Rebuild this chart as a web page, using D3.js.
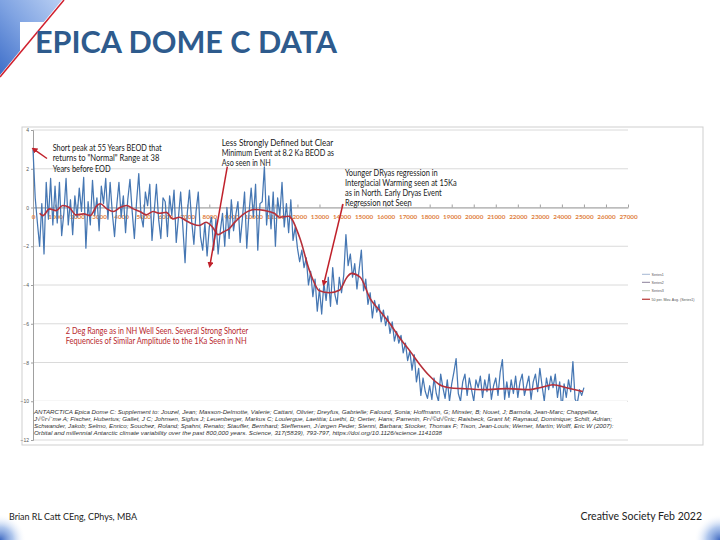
<!DOCTYPE html>
<html><head><meta charset="utf-8">
<script src="https://cdn.jsdelivr.net/npm/d3@7/dist/d3.min.js"></script>
<style>body{margin:0;background:#fff}svg{display:block}</style>
</head><body>
<svg id="c" width="720" height="540"></svg>
<script>
// ---------------- DATA ----------------
const xTickValues = [0,1000,2000,3000,4000,5000,6000,7000,8000,9000,10000,11000,12000,13000,14000,15000,16000,17000,18000,19000,20000,21000,22000,23000,24000,25000,26000,27000];
const yTickValues = [4,2,0,-2,-4,-6,-8,-10,-12];

// Series1: temperature anomaly, sampled every 100 years from year 0
const blueStartYear = 0, blueStepYears = 100;
const blueValues = [
 3.0, 0.5, -0.8, -2.0, 0.2, -2.4, 1.3, -0.6, 1.5, -0.9,
 1.1, -0.8, 1.3, -1.45, -0.3, 1.5, -0.9, 0.4, -1.4, 0.6,
 -0.5, 1.0, -0.2, 1.55, -2.1, 0.3, -0.9, 1.4, -0.4, 0.5,
 -1.2, 1.1, 0.2, 1.5, -0.6, 1.3, -0.3, -1.5, 0.1, 1.3,
 -0.5, 0.6, -1.3, 0.4, 1.45, -0.2, -1.6, 0.3, 1.75, -0.4,
 -1.0, 0.8, 0.1, 1.2, -1.7, -0.2, 1.2, -0.6, -1.6, 0.5,
 0.3, -1.5, 0.6, -0.4, 0.9, -1.8, -0.5, 0.8, -1.0, -2.85,
 -0.3, 0.9, -0.7, -1.9, -0.2, 0.8, -1.5, -2.2, -0.8, -2.5,
 -1.0, -0.5, -2.2, -0.6, -2.4, -1.2, -0.3, -2.0, 0.0, -1.6,
 0.4, -1.2, -0.4, 0.3, -1.8, -0.6, 0.8, -2.1, -0.3, 1.0,
 -0.5, 1.2, -2.2, 0.2, 0.3, 2.1, -0.9, 0.6, -1.1, 0.8,
 -2.0, 0.5, -0.4, 1.3, -1.0, 0.2, -1.3, 0.4, -1.7, -1.0,
 -2.1, -2.8, -2.2, -3.1, -2.6, -4.0, -3.3, -4.6, -3.7, -5.35,
 -4.2, -5.5, -3.9, -4.8, -3.6, -5.1, -3.1, -4.5, -5.0, -3.6,
 -4.4, -3.5, -1.4, -3.0, -2.4, -3.6, -2.9, -4.2, -3.2, -2.2,
 -4.3, -3.7, -5.0, -4.4, -5.7, -4.8, -5.4, -5.0, -5.9, -5.3,
 -6.1, -5.6, -6.5, -5.9, -6.9, -6.4, -7.0, -6.6, -7.5, -7.0,
 -7.9, -7.4, -8.4, -7.6, -9.0, -8.3, -9.7, -8.8, -9.5, -9.85,
 -9.2, -9.9, -8.8, -9.6, -10.0, -8.6, -9.3, -9.85, -8.9, -10.0,
 -9.1, -8.5, -7.8, -9.6, -10.0, -9.0, -8.6, -9.7, -8.8, -9.4,
 -10.0, -8.9, -9.3, -8.7, -9.8, -8.9, -9.5, -8.6, -9.9, -9.2,
 -8.8, -9.7, -8.5, -7.85, -9.9, -9.0, -9.8, -8.9, -9.6, -8.7,
 -9.8, -9.0, -8.6, -9.7, -9.2, -8.7, -9.9, -9.0, -8.6, -9.5,
 -8.3, -9.2, -10.0, -8.8, -9.4, -8.7, -9.3, -8.6, -9.8, -9.0,
 -10.45, -9.1, -9.8, -8.9, -9.5, -7.95, -9.9, -10.1, -9.4, -9.7, -9.3
];

// 50 per. Mov. Avg. (Series1)
const maYears = [300,450,750,1050,1350,1650,1950,2300,2600,2900,3050,3350,3650,3950,4250,4550,4850,5150,5450,5750,6050,6350,6650,6950,7250,7550,7850,8150,8400,8650,8900,9150,9600,10050,10500,10950,11200,11600,12100,12550,13000,13450,13900,14250,14450,14850,15300,15750,16200,16650,17100,17550,18000,18450,18900,19500,20500,21500,22500,23000,23600,24200,24950];
const maValues = [-0.3,-0.42,-0.07,-0.16,0.1,0.0,-0.38,-0.33,-0.42,0.1,0.19,-0.07,-0.21,0.0,0.1,-0.07,-0.21,-0.38,-0.21,-0.3,-0.25,-0.59,-0.5,-0.68,-0.85,-0.93,-0.76,-1.02,-1.4,-1.25,-1.1,-0.77,-0.3,-0.1,-0.15,-0.3,-0.5,-0.45,-1.55,-3.27,-4.3,-4.4,-4.27,-3.6,-3.4,-3.6,-4.7,-5.35,-6.0,-6.75,-7.4,-8.1,-8.7,-9.15,-9.3,-9.35,-9.4,-9.35,-9.4,-9.3,-9.15,-9.3,-9.5];

const legendLabels = ["Series1","Series2","Series3","50 per. Mov. Avg. (Series1)"];

const titleText = "EPICA DOME C DATA";
const noteA = ["Short peak at 55 Years BEOD that","returns to \"Normal\" Range at 38","Years before EOD"];
const noteB = ["Less Strongly Defined but Clear","Minimum Event at 8.2 Ka BEOD as","Aso seen in NH"];
const noteC = ["Younger DRyas regression in","Interglacial Warming seen at 15Ka","as in North. Early Dryas Event","Regression not Seen"];
const noteD = ["2 Deg Range as in NH Well Seen. Several Strong Shorter","Fequencies of Similar Amplitude to the 1Ka Seen in NH"];
const citation = [
 "ANTARCTICA Epica Dome C: Supplement to: Jouzel, Jean; Masson-Delmotte, Valerie; Cattani, Olivier; Dreyfus, Gabrielle; Falourd, Sonia; Hoffmann, G; Minster, B; Nouet, J; Barnola, Jean-Marc; Chappellaz,",
 "J\u221A\u00A9r\u221A\u00B4me A; Fischer, Hubertus; Gallet, J C; Johnsen, Sigfus J; Leuenberger, Markus C; Loulergue, Laetitia; Luethi, D; Oerter, Hans; Parrenin, Fr\u221A\u00A9d\u221A\u00A9ric; Raisbeck, Grant M; Raynaud, Dominique; Schilt, Adrian;",
 "Schwander, Jakob; Selmo, Enrico; Souchez, Roland; Spahni, Renato; Stauffer, Bernhard; Steffensen, J\u221A\u00F8rgen Peder; Stenni, Barbara; Stocker, Thomas F; Tison, Jean-Louis; Werner, Martin; Wolff, Eric W (2007):",
 "Orbital and millennial Antarctic climate variability over the past 800,000 years. Science, 317(5839), 793-797, https://doi.org/10.1126/science.1141038"
];
const footerLeft = "Brian RL Catt CEng, CPhys, MBA";
const footerRight = "Creative Society Feb 2022";

// ---------------- DRAW ----------------
const svg = d3.select("#c");
const defs = svg.append("defs");

const g1 = defs.append("linearGradient").attr("id","tl").attr("x1","1").attr("y1","0").attr("x2","0").attr("y2","1");
g1.append("stop").attr("offset","0").attr("stop-color","#b9cff3");
g1.append("stop").attr("offset","0.5").attr("stop-color","#7fa3e2");
g1.append("stop").attr("offset","1").attr("stop-color","#3f6fc9");
const rg = defs.append("radialGradient").attr("id","corner");
rg.append("stop").attr("offset","0").attr("stop-color","#3c67c0");
rg.append("stop").attr("offset","0.5").attr("stop-color","#8fb0e6").attr("stop-opacity",0.7);
rg.append("stop").attr("offset","1").attr("stop-color","#ffffff").attr("stop-opacity",0);
const mk = defs.append("marker").attr("id","arr").attr("viewBox","0 0 10 10").attr("refX",5).attr("refY",5)
  .attr("markerWidth",4).attr("markerHeight",4).attr("orient","auto-start-reverse");
mk.append("path").attr("d","M0,0L10,5L0,10z").attr("fill","#c0202a");

// top-left decoration
svg.append("path").attr("d","M0,0L62,0L43.8,22L20,22L20,50.8L0,75Z").attr("fill","url(#tl)");
svg.append("line").attr("x1",64).attr("y1",0).attr("x2",0).attr("y2",77).attr("stroke","#d0202e").attr("stroke-width",1.5);
// bottom corners
svg.append("circle").attr("cx",0).attr("cy",540).attr("r",26).attr("fill","url(#corner)");
svg.append("circle").attr("cx",720).attr("cy",540).attr("r",26).attr("fill","url(#corner)");

// title
svg.append("text").attr("x",35).attr("y",53).text(titleText)
  .attr("font-family","Lato, 'Open Sans', sans-serif").attr("font-weight",700).attr("font-size",30)
  .attr("fill","#2e5b8d").attr("textLength",302).attr("lengthAdjust","spacingAndGlyphs");

// chart frame
svg.append("rect").attr("x",22).attr("y",127).attr("width",681).attr("height",318)
  .attr("fill","#fff").attr("stroke","#cfcfcf").attr("stroke-width",1);

const x = d3.scaleLinear().domain([0,27000]).range([33,628]);
const y = d3.scaleLinear().domain([-12,4]).range([440,130]);

// gridlines
svg.append("g").selectAll("line").data(yTickValues).join("line")
  .attr("x1",x(0)).attr("x2",x(27000)).attr("y1",d=>y(d)).attr("y2",d=>y(d))
  .attr("stroke","#d6d6d6").attr("stroke-width",0.9);

// y axis
const ya = svg.append("g").attr("transform",`translate(${x(0)},0)`)
  .call(d3.axisLeft(y).tickValues(yTickValues).tickSize(2).tickPadding(2).tickFormat(d3.format("d")));
ya.select(".domain").attr("stroke","#a0a0a0");
ya.selectAll(".tick line").attr("stroke","#a0a0a0");
ya.selectAll("text").attr("font-size",5).attr("font-family","Liberation Sans, Arial, sans-serif").attr("fill","#555");

// x axis at zero
const xa = svg.append("g").attr("transform",`translate(0,${y(0)})`)
  .call(d3.axisBottom(x).tickValues(xTickValues).tickSizeInner(-3).tickSizeOuter(0).tickPadding(7).tickFormat(d3.format("d")));
xa.select(".domain").attr("stroke","#a0a0a0");
xa.selectAll(".tick line").attr("stroke","#a0a0a0");
xa.selectAll("text").attr("font-size",6.3).attr("font-weight",700).attr("font-family","Lato, sans-serif").attr("fill","#e0803e");

// Series1
const blueLine = d3.line().x((d,i)=>x(blueStartYear + i*blueStepYears)).y(d=>y(d));
svg.append("path").attr("d",blueLine(blueValues)).attr("fill","none")
  .attr("stroke","#4677b3").attr("stroke-width",1.25).attr("stroke-linejoin","round");

// moving average
const maLine = d3.line().x(d=>x(d[0])).y(d=>y(d[1])).curve(d3.curveMonotoneX);
svg.append("path").attr("d",maLine(maYears.map((yr,i)=>[yr,maValues[i]]))).attr("fill","none")
  .attr("stroke","#b5303a").attr("stroke-width",1.6);

// annotations
function note(lines, x0, y0, dy, widths, color){
  const t = svg.append("g");
  lines.forEach((s,i)=>{
    t.append("text").attr("x",x0).attr("y",y0+i*dy).text(s)
      .attr("font-family","Lato, 'Open Sans', sans-serif").attr("font-size",9.2)
      .attr("fill",color).attr("textLength",widths[i]).attr("lengthAdjust","spacingAndGlyphs");
  });
}
note(noteA, 52.7, 151, 10.3, [109,106.6,58], "#1a1a1a");
note(noteB, 221.7, 145.5, 10, [111.6,112.3,49], "#1a1a1a");
note(noteC, 345, 176, 10, [92.7,111.7,96.7,66.7], "#1a1a1a");
note(noteD, 65.7, 334, 10, [182.6,181], "#b8282e");

function arrow(x1,y1,x2,y2){
  svg.append("line").attr("x1",x1).attr("y1",y1).attr("x2",x2).attr("y2",y2)
    .attr("stroke","#c0202a").attr("stroke-width",1.5).attr("marker-end","url(#arr)");
}
arrow(47,158.5, x(0)+1, y(3.0));
arrow(227.3,166.7, x(8030), y(-2.97));
arrow(343,204, x(13200), y(-3.92));

// citation box
svg.append("rect").attr("x",34).attr("y",401).attr("width",593).attr("height",36).attr("fill","#fff");
const citW = [565,578,579.5,408];
citation.forEach((s,i)=>{
  svg.append("text").attr("x",34).attr("y",413.5+i*7).text(s)
    .attr("font-family","Liberation Sans, Arial, sans-serif").attr("font-style","italic").attr("font-size",6)
    .attr("fill","#333").attr("textLength",citW[i]).attr("lengthAdjust","spacingAndGlyphs");
});

// legend
const legColors = ["#8ea6c8","#6d5f80","#a9b5a0","#c0504d"];
const lg = svg.append("g");
legendLabels.forEach((s,i)=>{
  const yy = [274.3,282.3,290.7,299.3][i];
  lg.append("line").attr("x1",642).attr("x2",650).attr("y1",yy).attr("y2",yy)
    .attr("stroke",legColors[i]).attr("stroke-width",i===3?1.4:0.8);
  lg.append("text").attr("x",651.5).attr("y",yy+1.3).text(s)
    .attr("font-family","Liberation Sans, Arial, sans-serif").attr("font-size",3.6).attr("fill","#555");
});

// footer
svg.append("text").attr("x",9).attr("y",519.5).text(footerLeft)
  .attr("font-family","Lato, sans-serif").attr("font-size",10).attr("fill","#222")
  .attr("textLength",128).attr("lengthAdjust","spacingAndGlyphs");
svg.append("text").attr("x",702).attr("y",519.5).attr("text-anchor","end").text(footerRight)
  .attr("font-family","Lato, sans-serif").attr("font-size",10.5).attr("fill","#222");
</script>
</body></html>
